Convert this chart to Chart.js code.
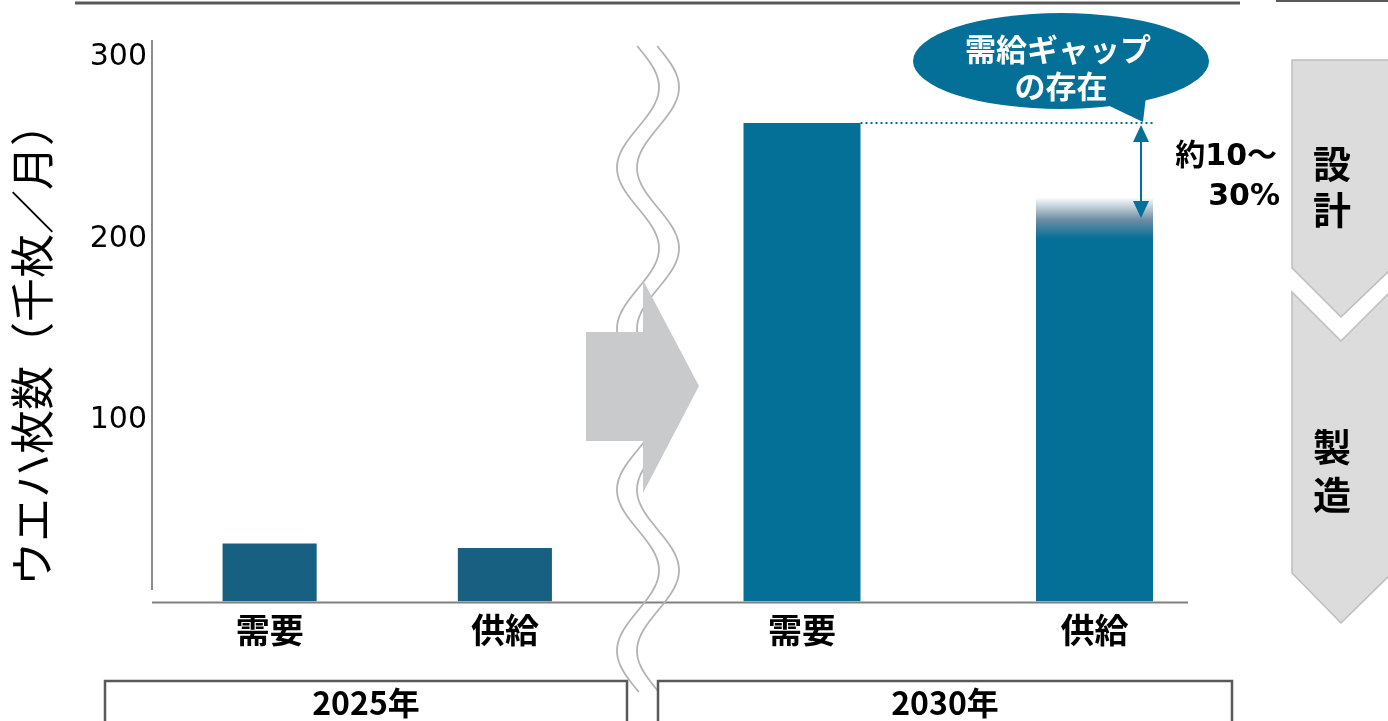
<!DOCTYPE html>
<html>
<head>
<meta charset="utf-8">
<script src="https://cdn.jsdelivr.net/npm/chart.js@4.4.0/dist/chart.umd.min.js"></script>
<style>
    body { margin: 0; background: #fff; }
    #wrap { position: relative; width: 1388px; height: 721px; }
    canvas { position: absolute; left: 0; top: 0; }
</style>
</head>
<body>
<div id="wrap">
    <canvas id="chart2025" width="1388" height="721"></canvas>
    <canvas id="chart2030" width="1388" height="721"></canvas>
</div>
<script>
// data (千枚/月)
const categories = ['需要', '供給'];
const years = ['2025年', '2030年'];
const values2025 = [32, 29.5];
const values2030 = [264, 200];
const supplyRange2030 = [200, 223];   // faded top of 2030 supply
const yTicks = [100, 200, 300];
const yTitle = 'ウエハ枚数（千枚／月）';
const calloutText = ['需給ギャップ', 'の存在'];
const gapText = ['約10〜', '30%'];
const stages = ['設計', '製造'];

const CJK = '"Noto Sans CJK JP", "Noto Sans", sans-serif';
const LATIN = '"DejaVu Sans", "Noto Sans CJK JP", sans-serif';
const COLOR_2025 = '#176082';
const COLOR_2030 = '#046f97';
const Y_MAX = 310;

const baseOptions = (padLeft, padRight, showY) => ({
    responsive: false,
    animation: false,
    layout: { padding: { left: padLeft, right: padRight, top: 39.5, bottom: 0 } },
    plugins: { legend: { display: false }, tooltip: { enabled: false } },
    scales: {
        x: {
            grid: { display: false, drawTicks: false },
            border: { display: false },
            ticks: { color: '#000', maxRotation: 0, padding: 8, font: { family: CJK, size: 34, weight: 'bold' } },
            afterFit: s => { s.height = 119.5; }
        },
        y: {
            display: showY,
            min: 0,
            max: Y_MAX,
            grid: { display: false, drawTicks: false },
            border: { display: false },
            afterBuildTicks: s => { s.ticks = yTicks.map(v => ({ value: v })); },
            ticks: { color: '#000', padding: 5, font: { family: LATIN, size: 30 } },
            afterFit: s => { if (showY) s.width = 152; }
        }
    }
});

// fades the uncertain part of the 2030 supply bar into white
const fadeFill = (context) => {
    const chart = context.chart;
    const y = chart.scales.y;
    if (!chart.chartArea || !y) return COLOR_2030;
    const g = chart.ctx.createLinearGradient(0, y.getPixelForValue(supplyRange2030[0]), 0, y.getPixelForValue(supplyRange2030[1]));
    g.addColorStop(0, COLOR_2030);
    g.addColorStop(0.45, '#6a8ca2');
    g.addColorStop(1, '#ffffff');
    return g;
};

const leftDecor = {
    id: 'leftDecor',
    afterDraw(chart) {
        const ctx = chart.ctx;
        const area = chart.chartArea;
        ctx.save();
        // y axis line (stops short of the baseline like the original)
        ctx.strokeStyle = '#8c8c8c';
        ctx.lineWidth = 2;
        ctx.beginPath();
        ctx.moveTo(area.left, 40);
        ctx.lineTo(area.left, 590);
        ctx.stroke();
        // y title
        ctx.translate(32, 344);
        ctx.rotate(-Math.PI / 2);
        ctx.fillStyle = '#000';
        ctx.font = '44px ' + CJK;
        ctx.textAlign = 'center';
        ctx.textBaseline = 'middle';
        ctx.fillText(yTitle, 0, 0);
        ctx.restore();
    }
};

const drawWave = (ctx, x0) => {
    ctx.beginPath();
    for (let y = 46; y <= 692; y += 2) {
        const x = x0 + 21 * Math.sin(2 * Math.PI * (y - 47) / 161);
        if (y === 46) ctx.moveTo(x, y); else ctx.lineTo(x, y);
    }
    ctx.stroke();
};

const rightDecor = {
    id: 'rightDecor',
    afterDraw(chart) {
        const ctx = chart.ctx;
        const y = chart.scales.y;
        ctx.save();

        // top rules
        ctx.strokeStyle = '#595959';
        ctx.lineWidth = 3;
        ctx.beginPath(); ctx.moveTo(75, 3); ctx.lineTo(1240, 3); ctx.stroke();
        ctx.lineWidth = 2;
        ctx.beginPath(); ctx.moveTo(1276, 1); ctx.lineTo(1388, 1); ctx.stroke();

        // x axis line
        const base = y.getPixelForValue(0);
        ctx.strokeStyle = '#808080';
        ctx.lineWidth = 2;
        ctx.beginPath(); ctx.moveTo(152, base + 1); ctx.lineTo(1188, base + 1); ctx.stroke();

        // axis break
        ctx.strokeStyle = '#b3b3b3';
        ctx.lineWidth = 1.8;
        drawWave(ctx, 638);
        drawWave(ctx, 658);

        // big grey arrow
        ctx.fillStyle = '#c8cacb';
        ctx.beginPath();
        [[586, 332], [643, 332], [643, 280], [699, 386], [643, 493], [643, 441], [586, 441]]
            .forEach(([px, py], i) => i ? ctx.lineTo(px, py) : ctx.moveTo(px, py));
        ctx.closePath();
        ctx.fill();

        // year boxes
        ctx.strokeStyle = '#595959';
        ctx.lineWidth = 2.5;
        ctx.strokeRect(105, 681, 522, 50);
        ctx.strokeRect(658, 681, 574, 50);
        ctx.fillStyle = '#000';
        ctx.font = 'bold 32px ' + CJK;
        ctx.textAlign = 'center';
        ctx.textBaseline = 'middle';
        ctx.fillText(years[0], 366, 703);
        ctx.fillText(years[1], 945, 703);

        // dotted line at the demand level
        const demandBar = chart.getDatasetMeta(0).data[0];
        const yDemand = y.getPixelForValue(values2030[0]);
        ctx.strokeStyle = COLOR_2030;
        ctx.lineWidth = 2;
        ctx.setLineDash([2, 3]);
        ctx.beginPath();
        ctx.moveTo(demandBar.x + demandBar.width / 2, yDemand);
        ctx.lineTo(1155, yDemand);
        ctx.stroke();
        ctx.setLineDash([]);

        // double arrow for the gap
        const ax = 1141;
        const yGap = y.getPixelForValue((supplyRange2030[0] + supplyRange2030[1]) / 2);
        ctx.beginPath();
        ctx.moveTo(ax, yDemand + 14);
        ctx.lineTo(ax, yGap - 14);
        ctx.stroke();
        ctx.fillStyle = COLOR_2030;
        ctx.beginPath();
        ctx.moveTo(ax, yDemand + 2); ctx.lineTo(ax - 8, yDemand + 19); ctx.lineTo(ax + 8, yDemand + 19);
        ctx.closePath(); ctx.fill();
        ctx.beginPath();
        ctx.moveTo(ax, yGap); ctx.lineTo(ax - 8, yGap - 17); ctx.lineTo(ax + 8, yGap - 17);
        ctx.closePath(); ctx.fill();

        // callout bubble
        ctx.beginPath();
        ctx.ellipse(1061, 61, 148, 48, 0, 0, Math.PI * 2);
        ctx.fill();
        ctx.beginPath();
        ctx.moveTo(1097, 100); ctx.lineTo(1146, 96); ctx.lineTo(1143, yDemand - 1);
        ctx.closePath(); ctx.fill();
        ctx.fillStyle = '#fff';
        ctx.font = 'bold 31px ' + CJK;
        ctx.fillText(calloutText[0], 1058, 49);
        ctx.fillText(calloutText[1], 1061, 86);

        // gap size text
        ctx.fillStyle = '#000';
        ctx.font = 'bold 30px ' + LATIN;
        ctx.textAlign = 'right';
        ctx.fillText(gapText[0], 1277, 157);
        ctx.fillText(gapText[1], 1280, 197);

        // process chevrons on the right
        ctx.fillStyle = '#dcdcdc';
        ctx.strokeStyle = '#bdbdbd';
        ctx.lineWidth = 1.5;
        const poly = pts => {
            ctx.beginPath();
            pts.forEach(([px, py], i) => i ? ctx.lineTo(px, py) : ctx.moveTo(px, py));
            ctx.closePath();
            ctx.fill();
            ctx.stroke();
        };
        poly([[1292, 60], [1392, 60], [1392, 268], [1341, 317], [1292, 268]]);
        poly([[1292, 292], [1341, 341], [1392, 290], [1392, 573], [1341, 623], [1292, 573]]);
        ctx.fillStyle = '#000';
        ctx.font = 'bold 38px ' + CJK;
        ctx.textAlign = 'center';
        ctx.fillText(stages[0][0], 1332, 164);
        ctx.fillText(stages[0][1], 1332, 210);
        ctx.fillText(stages[1][0], 1332, 447);
        ctx.fillText(stages[1][1], 1332, 495);

        ctx.restore();
    }
};

new Chart(document.getElementById('chart2025'), {
    type: 'bar',
    data: {
        labels: categories,
        datasets: [{
            data: values2025,
            backgroundColor: COLOR_2025,
            categoryPercentage: 1,
            barPercentage: 0.4
        }]
    },
    options: baseOptions(0, 765.5, true),
    plugins: [leftDecor]
});

new Chart(document.getElementById('chart2030'), {
    type: 'bar',
    data: {
        labels: categories,
        datasets: [{
            data: values2030,
            backgroundColor: COLOR_2030,
            grouped: false,
            categoryPercentage: 1,
            barPercentage: 0.4
        }, {
            data: [null, supplyRange2030],
            backgroundColor: fadeFill,
            grouped: false,
            categoryPercentage: 1,
            barPercentage: 0.4
        }]
    },
    options: baseOptions(655.75, 147.25, false),
    plugins: [rightDecor]
});
</script>
</body>
</html>
